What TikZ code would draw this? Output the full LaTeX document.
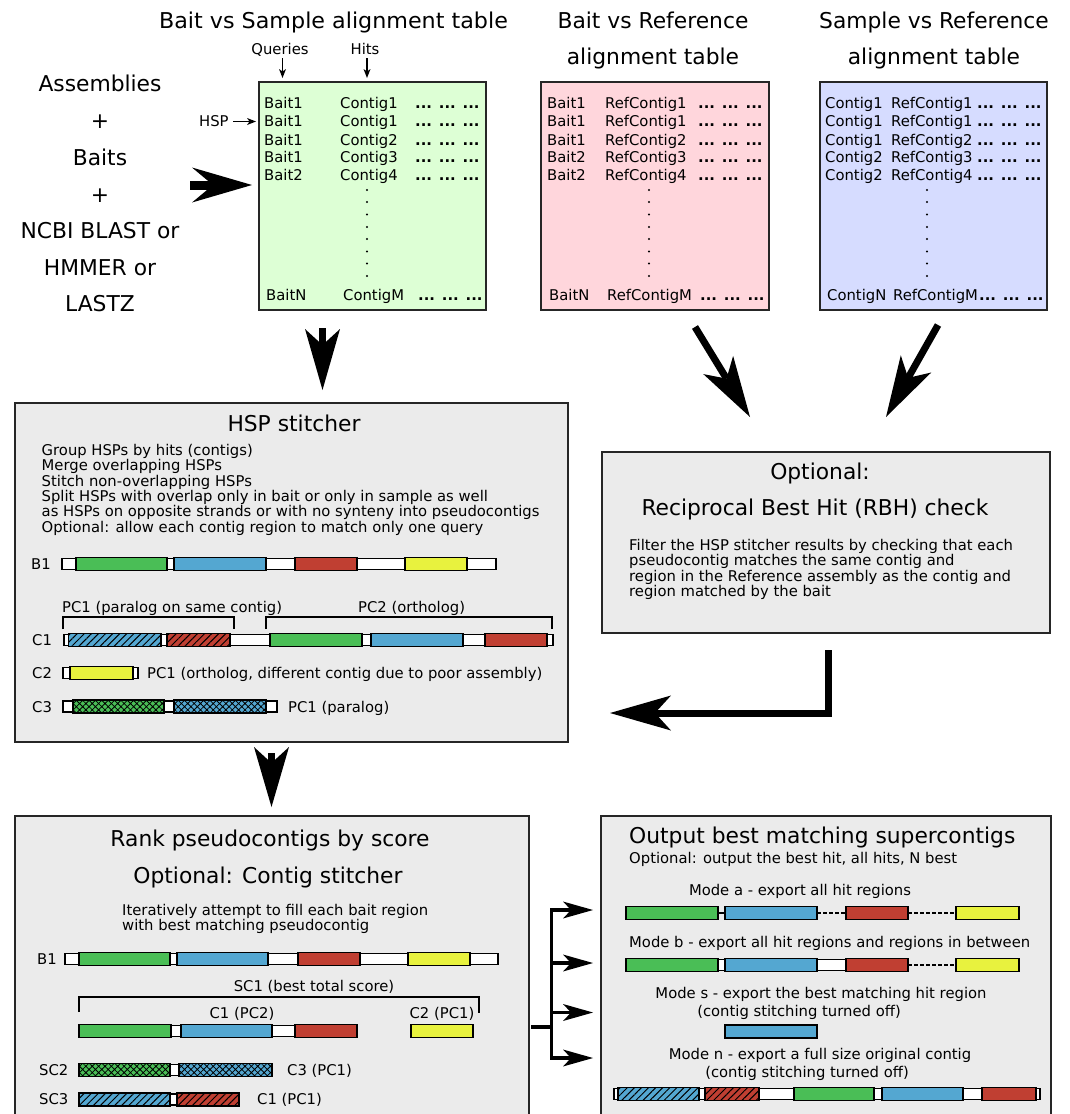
\documentclass[tikz,border=0pt]{standalone}
\usepackage{fontspec}
\setmainfont{DejaVu Sans}
\usetikzlibrary{arrows.meta,patterns.meta}
\definecolor{cgreen}{RGB}{74,190,86}
\definecolor{cblue}{RGB}{84,167,209}
\definecolor{cred}{RGB}{192,63,50}
\definecolor{cyellow}{RGB}{232,242,62}
\definecolor{tgreen}{RGB}{221,255,213}
\definecolor{tpink}{RGB}{255,214,220}
\definecolor{tblue}{RGB}{214,220,255}
\definecolor{panelgray}{RGB}{235,235,235}
\newcommand\fbig{\fontsize{21.8}{24}\selectfont}
\newcommand\fsm{\fontsize{14.8}{16}\selectfont}
% white bar: x1 x2 y
\newcommand\wbar[3]{\draw[wbarst] (#1,#3-5.5) rectangle (#2,#3+5.5);}
% coloured segment: x1 x2 y colour
\newcommand\cseg[4]{\draw[cbarst,fill=#4] (#1,#3-6.5) rectangle (#2,#3+6.5);}
% hatched segment
\newcommand\hseg[4]{\fill[#4] (#1,#3-6.5) rectangle (#2,#3+6.5);
  \fill[pattern={Lines[angle=45,distance=5pt,line width=1pt]},pattern color=black] (#1,#3-6.5) rectangle (#2,#3+6.5);
  \draw[cbarst] (#1,#3-6.5) rectangle (#2,#3+6.5);}
% cross-hatched segment
\newcommand\xseg[4]{\fill[#4] (#1,#3-6.5) rectangle (#2,#3+6.5);
  \fill[pattern={Hatch[angle=45,distance=4.5pt,line width=0.8pt]},pattern color=black] (#1,#3-6.5) rectangle (#2,#3+6.5);
  \draw[cbarst] (#1,#3-6.5) rectangle (#2,#3+6.5);}
\begin{document}
\begin{tikzpicture}[x=1pt,y=-1pt,
  txt/.style={inner sep=0pt,font=\fsm,anchor=base west},
  txtc/.style={inner sep=0pt,font=\fsm,anchor=base},
  ttl/.style={inner sep=0pt,font=\fbig,anchor=base},
  tbl/.style={draw=black!85,line width=2pt,inner sep=0pt},
  panel/.style={draw=black!85,line width=2pt,fill=panelgray,inner sep=0pt},
  wbarst/.style={draw=black,line width=1.2pt,fill=white},
  cbarst/.style={draw=black,line width=1.6pt},
  bigarrow/.style={line width=7pt,line join=miter,-{Stealth[length=61pt,width=35pt,inset=16pt,line width=0pt]}},
  brarrow/.style={line width=3.5pt,-{Stealth[length=30pt,width=17pt,inset=8pt,line width=0pt]}},
  smallarrow/.style={line width=1.3pt,-{Stealth[length=9pt,width=7pt,inset=2.5pt,line width=0pt]}},
  brack/.style={line width=1.5pt}]
\useasboundingbox (0,0) rectangle (1069,1114);
\clip (0,0) rectangle (1069,1114);

% ---------- inputs ----------
\foreach \t/\yy [count=\i] in {Assemblies/91,+/128,Baits/165,+/202,NCBI BLAST or/238.5,HMMER or/275,LASTZ/311.5}
  \node[ttl] (src\i) at (100,\yy) {\t};

% ---------- titles ----------
\node[ttl] (t1) at (333.5,28) {\scalebox{1.02}[1]{Bait vs Sample alignment table}};
\node[ttl] (t2a) at (653,28) {Bait vs Reference};
\node[ttl] (t2b) at (653,64) {alignment table};
\node[ttl] (t3a) at (934,28) {Sample vs Reference};
\node[ttl] (t3b) at (934,64) {alignment table};

% ---------- tables ----------
\node[tbl,fill=tgreen,minimum width=227pt,minimum height=228pt] (gtab) at (372.5,196) {};
\node[tbl,fill=tpink,minimum width=228pt,minimum height=228pt] (ptab) at (655,196) {};
\node[tbl,fill=tblue,minimum width=227pt,minimum height=228pt] (btab) at (933.5,196) {};

\foreach \yy/\a/\b [count=\i] in {108/Bait1/Contig1,126.5/Bait1/Contig1,145/Bait1/Contig2,162.5/Bait1/Contig3,180/Bait2/Contig4}{
  \node[txt] (gq\i) at (264,\yy) {\a};
  \node[txt] (gh\i) at (340,\yy) {\b};
  \node[txt] (gd\i) at (415,\yy) {\textbf{... ... ...}};
}
\node[txt] (gqN) at (266,300) {BaitN};
\node[txt] (ghN) at (343,300) {ContigM};
\node[txt] (gdN) at (418,300) {\textbf{... ... ...}};

\foreach \yy/\a/\b [count=\i] in {108/Bait1/RefContig1,126.5/Bait1/RefContig1,145/Bait1/RefContig2,162.5/Bait2/RefContig3,180/Bait2/RefContig4}{
  \node[txt] (pq\i) at (547,\yy) {\a};
  \node[txt] (ph\i) at (605,\yy) {\b};
  \node[txt] (pd\i) at (698,\yy) {\textbf{... ... ...}};
}
\node[txt] (pqN) at (549,300) {BaitN};
\node[txt] (phN) at (607,300) {RefContigM};
\node[txt] (pdN) at (700,300) {\textbf{... ... ...}};

\foreach \yy/\a/\b [count=\i] in {108/Contig1/RefContig1,126.5/Contig1/RefContig1,145/Contig1/RefContig2,162.5/Contig2/RefContig3,180/Contig2/RefContig4}{
  \node[txt] (bq\i) at (825,\yy) {\a};
  \node[txt] (bh\i) at (891,\yy) {\b};
  \node[txt] (bd\i) at (977,\yy) {\textbf{... ... ...}};
}
\node[txt] (bqN) at (827,300) {ContigN};
\node[txt] (bhN) at (893,300) {RefContigM};
\node[txt] (bdN) at (979,300) {\textbf{... ... ...}};

\foreach \yy in {190,202,214.5,227,239,251.5,263.5,276}{
  \fill (367,\yy) circle (1.1pt);
  \fill (649,\yy) circle (1.1pt);
  \fill (927,\yy) circle (1.1pt);
}

% column labels
\node[txtc] (qlab) at (280,54) {Queries};
\node[txtc] (hlab) at (365,54) {Hits};
\node[txt] (hsplab) at (199,126.5) {HSP};
\coordinate (qa) at (282.5,58); \coordinate (qb) at (282.5,78);
\coordinate (ha) at (367,58); \coordinate (hb) at (367,78);
\coordinate (sa) at (233,121.5); \coordinate (sb) at (256,121.5);
\draw[smallarrow] (qa) -- (qb);
\draw[smallarrow] (ha) -- (hb);
\draw[smallarrow] (sa) -- (sb);

% ---------- panels ----------
\node[panel,minimum width=553pt,minimum height=339pt] (hsp) at (291.5,572.5) {};
\node[panel,minimum width=448pt,minimum height=181pt] (rbh) at (826,542.5) {};
\node[panel,minimum width=514pt,minimum height=320pt] (rank) at (272,976) {};
\node[panel,minimum width=450pt,minimum height=320pt] (outp) at (826,976) {};

% ---------- HSP stitcher ----------
\node[ttl] (hspt) at (294,431.5) {HSP stitcher};
\foreach \yy/\t [count=\i] in {455/Group HSPs by hits (contigs),470.5/Merge overlapping HSPs,486/Stitch non-overlapping HSPs,501/Split HSPs with overlap only in bait or only in sample as well,516.5/as HSPs on opposite strands or with no synteny into pseudocontigs,532/Optional: allow each contig region to match only one query}
  \node[txt] (hspl\i) at (41.5,\yy) {\t};

\node[txt] (hb1) at (31,569) {B1};
\wbar{62}{496}{564}
\cseg{76}{167}{564}{cgreen}
\cseg{174}{266}{564}{cblue}
\cseg{295}{357}{564}{cred}
\cseg{405}{467}{564}{cyellow}

\node[txt] (pc1) at (62,612) {PC1 (paralog on same contig)};
\node[txt] (pc2) at (358,612) {PC2 (ortholog)};
\draw[brack] (63,629) -- (63,617) -- (234,617) -- (234,629);
\draw[brack] (266,629) -- (266,617) -- (552,617) -- (552,629);

\node[txt] (hc1) at (32,645.5) {C1};
\wbar{64}{553}{640}
\hseg{68.5}{161}{640}{cblue}
\hseg{167}{230}{640}{cred}
\cseg{270}{362}{640}{cgreen}
\cseg{371}{463}{640}{cblue}
\cseg{485}{547}{640}{cred}

\node[txt] (hc2) at (32,678) {C2};
\wbar{63}{138}{673}
\cseg{70}{133}{673}{cyellow}
\node[txt] (hc2l) at (147,678) {PC1 (ortholog, different contig due to poor assembly)};

\node[txt] (hc3) at (32,712) {C3};
\wbar{63}{277}{706.5}
\xseg{73}{164}{706.5}{cgreen}
\xseg{174}{266}{706.5}{cblue}
\node[txt] (hc3l) at (288,712) {PC1 (paralog)};

% ---------- RBH ----------
\node[ttl] (rbht1) at (820,479.5) {Optional:};
\node[ttl] (rbht2) at (815,515.5) {Reciprocal Best Hit (RBH) check};
\foreach \yy/\t [count=\i] in {550/Filter the HSP stitcher results by checking that each,565.5/pseudocontig matches the same contig and,581/region in the Reference assembly as the contig and,596/region matched by the bait}
  \node[txt] (rbhl\i) at (629,\yy) {\t};

% ---------- Rank ----------
\node[ttl] (rankt1) at (270,846.5) {Rank pseudocontigs by score};
\node[ttl] (rankt2) at (268,883.5) {Optional: Contig stitcher};
\node[txt] (rankl1) at (122,915) {Iteratively attempt to fill each bait region};
\node[txt] (rankl2) at (122,930) {with best matching pseudocontig};

\node[txt] (rb1) at (37,964) {B1};
\wbar{65}{498}{959}
\cseg{79}{170}{959}{cgreen}
\cseg{177}{268}{959}{cblue}
\cseg{298}{360}{959}{cred}
\cseg{408}{470}{959}{cyellow}

\node[txtc] (sc1) at (314,991) {SC1 (best total score)};
\draw[brack] (79,1012) -- (79,997) -- (479,997) -- (479,1013);
\node[txtc] (rc1) at (242,1018) {C1 (PC2)};
\node[txtc] (rc2) at (442,1018) {C2 (PC1)};
\wbar{171}{295}{1031}
\cseg{79}{171}{1031}{cgreen}
\cseg{181}{272}{1031}{cblue}
\cseg{295}{357}{1031}{cred}
\cseg{411}{473}{1031}{cyellow}

\node[txt] (sc2) at (39,1075) {SC2};
\wbar{170}{179}{1070}
\xseg{79}{170}{1070}{cgreen}
\xseg{179}{272}{1070}{cblue}
\node[txt] (sc2l) at (287,1075) {C3 (PC1)};

\node[txt] (sc3) at (39,1104.5) {SC3};
\wbar{170}{177}{1099.5}
\hseg{79}{170}{1099.5}{cblue}
\hseg{177}{239}{1099.5}{cred}
\node[txt] (sc3l) at (257,1104.5) {C1 (PC1)};

% ---------- Output ----------
\node[txt,font=\fbig] (outt) at (629,843) {Output best matching supercontigs};
\node[txt] (outo) at (629,863) {Optional: output the best hit, all hits, N best};

\node[txtc] (ma) at (800,895) {Mode a - export all hit regions};
\draw[line width=1.5pt] (718,913) -- (725,913);
\draw[line width=2pt,dash pattern=on 4pt off 2pt] (817,913) -- (846,913);
\draw[line width=2pt,dash pattern=on 4pt off 2pt] (908,913) -- (956,913);
\cseg{626}{718}{913}{cgreen}
\cseg{725}{817}{913}{cblue}
\cseg{846}{908}{913}{cred}
\cseg{956}{1019}{913}{cyellow}

\node[txt] (mb) at (629,947) {Mode b - export all hit regions and regions in between};
\wbar{718}{725}{965}
\wbar{817}{846}{965}
\draw[line width=2pt,dash pattern=on 4pt off 2pt] (908,965) -- (956,965);
\cseg{626}{718}{965}{cgreen}
\cseg{725}{817}{965}{cblue}
\cseg{846}{908}{965}{cred}
\cseg{956}{1019}{965}{cyellow}

\node[txtc] (ms1) at (821,998) {Mode s - export the best matching hit region};
\node[txtc] (ms2) at (799,1016.5) {(contig stitching turned off)};
\cseg{725}{817}{1031.5}{cblue}

\node[txtc] (mn1) at (820,1059) {Mode n - export a full size original contig};
\node[txtc] (mn2) at (807,1077.5) {(contig stitching turned off)};
\wbar{614}{1040}{1094}
\hseg{618}{699}{1094}{cblue}
\hseg{705}{759}{1094}{cred}
\cseg{794}{874}{1094}{cgreen}
\cseg{882}{963}{1094}{cblue}
\cseg{982}{1036}{1094}{cred}

% ---------- connectors ----------
\coordinate (in1) at (190,185); \coordinate (in2) at (252,185);
\draw[line width=9pt,-{Stealth[length=60pt,width=35pt,inset=21pt,line width=0pt]}] (in1) -- (in2);

\coordinate (g1) at (322.5,328); \coordinate (g2) at (322.5,390);
\draw[bigarrow] (g1) -- (g2);

\coordinate (p1) at (695,327); \coordinate (p2) at (750,417);
\draw[bigarrow] (p1) -- (p2);

\coordinate (b1) at (938,325); \coordinate (b2) at (886,417);
\draw[bigarrow] (b1) -- (b2);

\coordinate (r1) at (828,650); \coordinate (r2) at (828,713); \coordinate (r3) at (610,713);
\draw[bigarrow] (r1) -- (r2) -- (r3);

\coordinate (h1) at (271.5,753); \coordinate (h2) at (271.5,807);
\draw[line width=7pt,-{Stealth[length=60pt,width=35pt,inset=16pt,line width=0pt]}] (h1) -- (h2);

\coordinate (o0) at (531,1027); \coordinate (oj) at (551.5,1027);
\coordinate (ot) at (551.5,910); \coordinate (ob) at (551.5,1060);
\draw[line width=3.5pt] (o0) -- (oj);
\draw[line width=3.5pt] (ot) -- (ob);
\foreach \yy [count=\i] in {910,963,1012.5,1058}{
  \coordinate (os\i) at (550,\yy);
  \coordinate (oe\i) at (593,\yy);
  \draw[brarrow] (os\i) -- (oe\i);
}
\end{tikzpicture}
\end{document}
